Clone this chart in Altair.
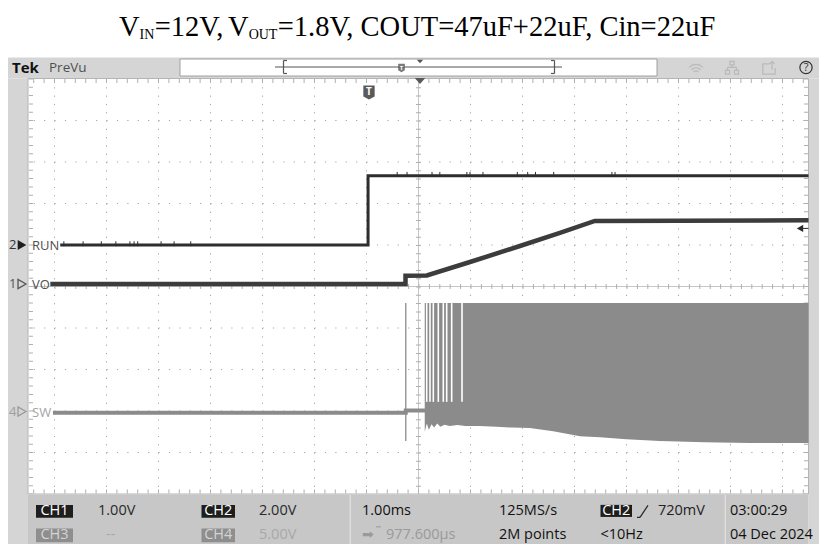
import altair as alt
import pandas as pd

# ---------------- trace data (time in ms, 1.00 ms/div, 0 = screen centre; level in divisions) ----------
run_t = [-6.89, -0.97, -0.97, 7.50]
run_v = [1.00, 1.00, 2.67, 2.67]
run_noise_t = [-6.82, -6.45, -6.10, -5.82, -5.55, -5.47, -5.40, -4.95, -4.70, -4.38,
               -0.41, -0.22, 0.26, 0.41, 0.93, 0.99, 1.24, 1.90, 2.10, 2.25, 2.60, 3.72, 3.78]

vo_t = [-7.08, -0.25, -0.25, 0.16, 0.99, 1.95, 2.72, 3.39, 7.50]
vo_v = [0.06, 0.06, 0.26, 0.265, 0.59, 0.976, 1.29, 1.58, 1.595]

sw_t = [-7.03, -0.245, -0.245, 0.13]
sw_v = [-3.04, -3.04, -2.99, -2.99]
sw_spike_t = [-0.245]
sw_spike_hi = [-0.40]
sw_spike_lo = [-3.72]

burst_t = [0.12, 0.16, 0.20, 0.25, 0.30, 0.36, 0.42, 0.50, 0.60, 0.75, 0.90, 1.18, 1.50,
           1.80, 2.14, 2.59, 3.11, 3.49, 4.00, 4.64, 5.50, 6.38, 7.50]
burst_lo = [-3.50, -3.30, -3.45, -3.32, -3.40, -3.30, -3.38, -3.33, -3.36, -3.34, -3.36,
            -3.36, -3.38, -3.40, -3.41, -3.49, -3.61, -3.63, -3.68, -3.72, -3.75, -3.77, -3.77]
burst_hi = -0.40
gap_t = [0.158, 0.221, 0.285, 0.381, 0.477, 0.542, 0.638, 0.837]
gap_lo = -2.78

trig_level = 1.40   # CH2 trigger level marker (720 mV)

# ---------------- screen geometry --------------------------------------------------------------------
W, H = 811, 536
X0, XD = 418.5, 52.0
Y0, YD = 286.5, 41.5
def ux(p): return (p - X0) / XD
def uy(p): return (Y0 - p) / YD
def sb(p): return 495 + (p - 495) * 49.0 / 57.0   # status bar squeezed to fit the page

XS = alt.Scale(domain=[ux(8), ux(8 + W)], nice=False, zero=False)
YS = alt.Scale(domain=[uy(8 + H), uy(8)], nice=False, zero=False)
def X(f): return alt.X(f, type="quantitative", scale=XS, axis=None)
def Y(f): return alt.Y(f, type="quantitative", scale=YS, axis=None)

def px_df(rows, cols):
    df = pd.DataFrame(rows, columns=cols)
    for c in df.columns:
        if c.startswith("x"):
            df[c] = df[c].map(ux)
        elif c.startswith("y"):
            df[c] = df[c].map(uy)
    return df

layers = []

# ---------------- chrome rectangles ------------------------------------------------------------------
chrome = px_df([
    (0, 827, 57.5, 78.5, "#d5d5d5"),
    (0, 28, 78.5, 552, "#d5d5d5"),
    (808.5, 827, 78.5, 552, "#d5d5d5"),
    (28, 808.5, 494.5, 552, "#c7c7c7"),
    (349.5, 351, 494.5, 552, "#dedede"),
    (724.5, 726, 494.5, 552, "#dedede"),
    (28, 808.5, 78.5, 494, "#ffffff"),
    (180, 657, 59, 76, "#ffffff"),
    (36, 73, sb(506.5), sb(521.5), "#1e1e1e"),
    (201.5, 235, sb(506.5), sb(521.5), "#1e1e1e"),
    (36, 73, sb(534), sb(550), "#8e8e8e"),
    (201.5, 235, sb(534), sb(550), "#8e8e8e"),
    (600.5, 632, sb(506.5), sb(520.5), "#1e1e1e"),
], ["x1", "x2", "y1", "y2", "fill"])
layers.append(alt.Chart(chrome).mark_rect().encode(
    x=X("x1"), x2="x2", y=Y("y1"), y2="y2", color=alt.Color("fill:N", scale=None)))

frames = px_df([(28, 808.5, 78.5, 494, "#b5b5b5"), (180, 657, 59, 76, "#a0a0a0")],
               ["x1", "x2", "y1", "y2", "stroke"])
layers.append(alt.Chart(frames).mark_rect(filled=False, strokeWidth=1).encode(
    x=X("x1"), x2="x2", y=Y("y1"), y2="y2", stroke=alt.Color("stroke:N", scale=None)))

# ---------------- graticule ---------------------------------------------------------------------------
vg = pd.DataFrame({"x": [k for k in range(-7, 8) if k != 0]})
vg["y1"], vg["y2"] = 5.0, -5.0
layers.append(alt.Chart(vg).mark_rule(color="#a5a5a5", strokeWidth=1, strokeDash=[1.2, 7.1]).encode(
    x=X("x"), y=Y("y1"), y2="y2"))
hg = pd.DataFrame({"y": [k for k in range(-4, 5) if k != 0]})
hg["x1"], hg["x2"] = -7.4, 7.5
layers.append(alt.Chart(hg).mark_rule(color="#a5a5a5", strokeWidth=1, strokeDash=[1.2, 9.2]).encode(
    x=X("x1"), x2="x2", y=Y("y")))

# centre cross
layers.append(alt.Chart(pd.DataFrame({"x1": [-7.5], "x2": [7.5], "y": [0.0]})).mark_rule(
    color="#c6c6c6", strokeWidth=1).encode(x=X("x1"), x2="x2", y=Y("y")))
layers.append(alt.Chart(pd.DataFrame({"x": [0.0], "y1": [5.0], "y2": [-5.0]})).mark_rule(
    color="#c6c6c6", strokeWidth=1).encode(x=X("x"), y=Y("y1"), y2="y2"))
layers.append(alt.Chart(pd.DataFrame({"x1": [-7.4], "x2": [7.5], "y": [0.0]})).mark_rule(
    color="#b0b0b0", strokeWidth=5, strokeDash=[1, 9.4]).encode(x=X("x1"), x2="x2", y=Y("y")))
layers.append(alt.Chart(pd.DataFrame({"x": [0.0], "y1": [5.0], "y2": [-5.0]})).mark_rule(
    color="#b0b0b0", strokeWidth=5, strokeDash=[1, 7.3]).encode(x=X("x"), y=Y("y1"), y2="y2"))

# border ticks
bt = px_df([(33.2, 808, 81)], ["x1", "x2", "y"])
bb = px_df([(33.2, 808, 491.5)], ["x1", "x2", "y"])
for d in (bt, bb):
    layers.append(alt.Chart(d).mark_rule(color="#b0b0b0", strokeWidth=4, strokeDash=[1, 9.4]).encode(
        x=X("x1"), x2="x2", y=Y("y")))
bl = px_df([(31, 78.5, 494)], ["x", "y1", "y2"])
br = px_df([(806, 78.5, 494)], ["x", "y1", "y2"])
for d in (bl, br):
    layers.append(alt.Chart(d).mark_rule(color="#b0b0b0", strokeWidth=4, strokeDash=[1, 7.3]).encode(
        x=X("x"), y=Y("y1"), y2="y2"))

# ---------------- traces ------------------------------------------------------------------------------
burst = pd.DataFrame({"t": burst_t, "lo": burst_lo})
burst["hi"] = burst_hi
layers.append(alt.Chart(burst).mark_area(color="#8b8b8b", opacity=1, interpolate="linear").encode(
    x=X("t"), y=Y("lo"), y2="hi"))
gaps = pd.DataFrame({"t": gap_t})
gaps["lo"], gaps["hi"] = gap_lo, burst_hi
layers.append(alt.Chart(gaps).mark_rule(color="#ffffff", strokeWidth=1.6).encode(
    x=X("t"), y=Y("lo"), y2="hi"))
spike = pd.DataFrame({"t": sw_spike_t, "lo": sw_spike_lo, "hi": sw_spike_hi})
layers.append(alt.Chart(spike).mark_rule(color="#9a9a9a", strokeWidth=1.5).encode(
    x=X("t"), y=Y("lo"), y2="hi"))

sw = pd.DataFrame({"t": sw_t, "v": sw_v, "i": range(len(sw_t))})
layers.append(alt.Chart(sw).mark_line(color="#8b8b8b", strokeWidth=4).encode(
    x=X("t"), y=Y("v"), order="i:Q"))

vo = pd.DataFrame({"t": vo_t, "v": vo_v, "i": range(len(vo_t))})
layers.append(alt.Chart(vo).mark_line(color="#3c3c3c", strokeWidth=4.5).encode(
    x=X("t"), y=Y("v"), order="i:Q"))

run = pd.DataFrame({"t": run_t, "v": run_v, "i": range(len(run_t))})
layers.append(alt.Chart(run).mark_line(color="#2e2e2e", strokeWidth=3).encode(
    x=X("t"), y=Y("v"), order="i:Q"))
rn = pd.DataFrame({"t": run_noise_t})
rn["lvl"] = [1.0 if t < -0.97 else 2.67 for t in run_noise_t]
rn["y1"], rn["y2"] = rn["lvl"] + 0.09, rn["lvl"] - 0.03
layers.append(alt.Chart(rn).mark_rule(color="#2e2e2e", strokeWidth=1).encode(
    x=X("t"), y=Y("y1"), y2="y2"))

# trigger level marker (right edge)
tl = pd.DataFrame({"x1": [ux(800)], "x2": [ux(808.5)], "y": [trig_level]})
layers.append(alt.Chart(tl).mark_rule(color="#333333", strokeWidth=1).encode(x=X("x1"), x2="x2", y=Y("y")))
layers.append(alt.Chart(tl).mark_point(shape="triangle-left", filled=True, size=55, color="#2a2a2a",
                                       opacity=1).encode(x=X("x1"), y=Y("y")))

# ---------------- markers -----------------------------------------------------------------------------
shield = "M-0.8,-1 L0.8,-1 L0.8,0.55 L0,1 L-0.8,0.55 Z"
mk = px_df([(369, 92.5, 200, "#5a5a5a"), (401.5, 68, 70, "#7a7a7a")], ["x", "y", "size", "c"])
layers.append(alt.Chart(mk).mark_point(shape=shield, filled=True, opacity=1).encode(
    x=X("x"), y=Y("y"), size=alt.Size("size:Q", scale=None), color=alt.Color("c:N", scale=None)))
tri = px_df([(420, 81, 110, "#5a5a5a"), (420, 61.5, 40, "#555555")], ["x", "y", "size", "c"])
layers.append(alt.Chart(tri).mark_point(shape="M-1,-0.55 L1,-0.55 L0,0.55 Z", filled=True, opacity=1).encode(
    x=X("x"), y=Y("y"), size=alt.Size("size:Q", scale=None), color=alt.Color("c:N", scale=None)))
ch_tri = px_df([(22, 245, True, "#1e1e1e"), (22, 284, False, "#555555"), (22, 411.5, False, "#9a9a9a")],
               ["x", "y", "f", "c"])
layers.append(alt.Chart(ch_tri[ch_tri.f]).mark_point(shape="triangle-right", filled=True, size=100,
                                                     opacity=1).encode(
    x=X("x"), y=Y("y"), color=alt.Color("c:N", scale=None)))
layers.append(alt.Chart(ch_tri[~ch_tri.f]).mark_point(shape="triangle-right", filled=False, size=85,
                                                      strokeWidth=1.3, opacity=1).encode(
    x=X("x"), y=Y("y"), color=alt.Color("c:N", scale=None)))
qm = px_df([(806, 67.5)], ["x", "y"])
layers.append(alt.Chart(qm).mark_point(shape="circle", filled=False, size=150, strokeWidth=1.2,
                                       color="#333333", opacity=1).encode(x=X("x"), y=Y("y")))

# faint top-bar icons (wifi, network, export)
wifi = ("M-1,-0.1 A1.4,1.4 0 0 1 1,-0.1 M-0.68,0.25 A0.95,0.95 0 0 1 0.68,0.25 "
        "M-0.36,0.58 A0.5,0.5 0 0 1 0.36,0.58 M-0.05,0.9 L0.05,0.9")
net = ("M-0.3,-0.95 L0.3,-0.95 L0.3,-0.45 L-0.3,-0.45 Z M0,-0.45 L0,-0.1 M-0.65,-0.1 L0.65,-0.1 "
       "M-0.65,-0.1 L-0.65,0.35 M0.65,-0.1 L0.65,0.35 M-0.95,0.35 L-0.35,0.35 L-0.35,0.9 L-0.95,0.9 Z "
       "M0.35,0.35 L0.95,0.35 L0.95,0.9 L0.35,0.9 Z")
export = ("M0.1,-0.6 L-0.9,-0.6 L-0.9,0.9 L0.9,0.9 L0.9,0.0 M0.45,0.3 L0.45,-0.95 "
          "M0.1,-0.6 L0.45,-0.95 L0.8,-0.6")
for shp, xx in ((wifi, 696), (net, 732), (export, 769)):
    d = px_df([(xx, 68)], ["x", "y"])
    layers.append(alt.Chart(d).mark_point(shape=shp, filled=False, size=190, strokeWidth=1.2,
                                          color="#b9b9b9", opacity=1).encode(x=X("x"), y=Y("y")))

# record view line and brackets, slope symbol
segs = px_df([
    (275, 562, 67, 67, "#555555"),
    (283.5, 283.5, 60.5, 73.5, "#555555"), (283.5, 287, 60.5, 60.5, "#555555"), (283.5, 287, 73.5, 73.5, "#555555"),
    (554.5, 554.5, 60.5, 73.5, "#555555"), (551, 554.5, 60.5, 60.5, "#555555"), (551, 554.5, 73.5, 73.5, "#555555"),
    (637, 640, sb(521), sb(521), "#222222"), (640, 648, sb(521), sb(507), "#222222"),
    (376, 381, sb(532), sb(532), "#a0a0a0"),
], ["x1", "x2", "y1", "y2", "c"])
layers.append(alt.Chart(segs).mark_rule(strokeWidth=1.2).encode(
    x=X("x1"), x2="x2", y=Y("y1"), y2="y2", color=alt.Color("c:N", scale=None)))

# ---------------- texts -------------------------------------------------------------------------------
def text_layer(rows, font, weight="normal", align="left"):
    df = px_df(rows, ["x", "y", "text", "size", "c"])
    return alt.Chart(df).mark_text(font=font, fontWeight=weight, align=align, baseline="middle").encode(
        x=X("x"), y=Y("y"), text="text:N", size=alt.Size("size:Q", scale=None),
        color=alt.Color("c:N", scale=None))

UI = "Open Sans"
R1, R2 = sb(514), sb(541.5)
layers.append(text_layer([
    (49, 68, "PreVu", 13.5, "#505050"),
    (32, 246, "RUN", 13, "#505050"),
    (32, 285, "VO", 13, "#505050"),
    (32, 412.5, "SW", 13, "#a5a5a5"),
    (9, 245, "2", 13, "#333333"),
    (9, 284, "1", 13, "#555555"),
    (9, 411.5, "4", 13, "#a0a0a0"),
    (98, R1, "1.00V", 14.5, "#2a2a2a"),
    (259, R1, "2.00V", 14.5, "#2a2a2a"),
    (106, R2, "--", 14.5, "#a8a8a8"),
    (259, R2, "5.00V", 14.5, "#a8a8a8"),
    (362, R1, "1.00ms", 14.5, "#111111"),
    (362, R2, "➡", 14, "#9a9a9a"),
    (386, R2, "977.600µs", 14.5, "#9a9a9a"),
    (499, R1, "125MS/s", 14.5, "#111111"),
    (499, R2, "2M points", 14.5, "#111111"),
    (658, R1 - 0.5, "720mV", 14.5, "#222222"),
    (600.5, R2, "<10Hz", 14.5, "#111111"),
    (730, R1, "03:00:29", 14.5, "#111111"),
    (730, R2, "04 Dec 2024", 14.5, "#111111"),
], UI))
layers.append(text_layer([(12, 67.5, "Tek", 15, "#111111")], UI, "bold"))
layers.append(text_layer([
    (54.5, R1, "CH1", 14.5, "#ffffff"),
    (218.3, R1, "CH2", 14.5, "#ffffff"),
    (54.5, R2, "CH3", 14.5, "#d4d4d4"),
    (218.3, R2, "CH4", 14.5, "#d4d4d4"),
    (616.2, R1 - 0.5, "CH2", 14.5, "#ffffff"),
    (806, 67.5, "?", 11, "#333333"),
], UI, "normal", "center"))
layers.append(text_layer([(369, 92, "T", 10, "#ffffff"), (401.5, 67.5, "T", 6, "#ffffff")], UI, "bold", "center"))

# ---------------- title (with subscripts) --------------------------------------------------------------
S, s = 28.5, 14
segments = [("V", False, 722, 0.0), ("IN", True, 1055, 0.3), ("=12V,", False, 2786, -6.0),
            ("V", False, 722, 0.0), ("OUT", True, 2055, 0.3),
            ("=1.8V, COUT=47uF+22uF, Cin=22uF", False, 15563, 0.0)]
title_rows = []
xpos = 119.0
for seg, sub, units, adj in segments:
    size = s if sub else S
    title_rows.append((xpos, 38.5 if sub else 35.5, seg, size, "#000000"))
    xpos += units * size / 1000.0 + adj
tdf = px_df(title_rows, ["x", "y", "text", "size", "c"])
layers.append(alt.Chart(tdf).mark_text(font="Liberation Serif", align="left", baseline="alphabetic").encode(
    x=X("x"), y=Y("y"), text="text:N", size=alt.Size("size:Q", scale=None),
    color=alt.Color("c:N", scale=None)))

chart = alt.layer(*layers).properties(width=W, height=H, padding=0, autosize="none", background="#ffffff"
                                       ).configure_view(stroke=None)
chart.save("out.html", embed_options={"renderer": "svg", "actions": False})
